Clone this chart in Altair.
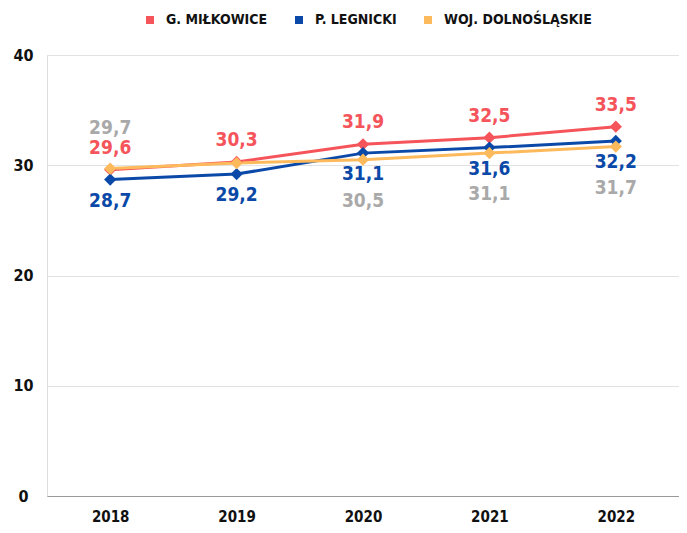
import altair as alt
import pandas as pd

years = ["2018", "2019", "2020", "2021", "2022"]
series = ["G. MIŁKOWICE", "P. LEGNICKI", "WOJ. DOLNOŚLĄSKIE"]
milkowice = [29.6, 30.3, 31.9, 32.5, 33.5]
legnicki = [28.7, 29.2, 31.1, 31.6, 32.2]
dolnoslaskie = [29.7, 30.2, 30.5, 31.1, 31.7]
colors = ["#F5545A", "#0B49A8", "#FDBA5C"]

FONT = "DejaVu Sans Condensed, DejaVu Sans, sans-serif"

rows = []
for s, vals in zip(series, [milkowice, legnicki, dolnoslaskie]):
    for y, v in zip(years, vals):
        rows.append({"year": y, "series": s, "value": v,
                     "label": f"{v:.1f}".replace(".", ",")})
df = pd.DataFrame(rows)

x = alt.X("year:N", sort=years, title=None,
          scale=alt.Scale(paddingInner=0, paddingOuter=0.5),
          axis=alt.Axis(labelAngle=0, ticks=False, labelPadding=13,
                        labelFontSize=15, labelFont=FONT, labelFontWeight="bold",
                        labelColor="#111", domainColor="#999", domainWidth=1, grid=False))
y = alt.Y("value:Q", title=None, scale=alt.Scale(domain=[0, 40], nice=False),
          axis=alt.Axis(values=[0, 10, 20, 30, 40], ticks=False, domain=False,
                        labelPadding=24, labelAlign="center",
                        labelFontSize=16, labelFont=FONT, labelFontWeight="bold",
                        labelColor="#111", gridColor="#E2E2E2", gridWidth=1))
color = alt.Color("series:N", sort=series,
                  scale=alt.Scale(domain=series, range=colors),
                  legend=alt.Legend(title=None, orient="none", direction="horizontal",
                                    legendX=96, legendY=-42, symbolType="square",
                                    symbolSize=64, symbolStrokeWidth=0,
                                    labelFont=FONT, labelFontSize=14, labelLimit=0,
                                    labelFontWeight="bold", labelColor="#111",
                                    columnPadding=24, labelOffset=9))

base = alt.Chart(df)
lines = base.mark_line(strokeWidth=3).encode(x=x, y=y, color=color,
                                             order=alt.Order("year:N"))
points = base.mark_point(shape="diamond", filled=True, size=150, opacity=1).encode(
    x=x, y=y, color=alt.Color("series:N", scale=alt.Scale(domain=series, range=colors), legend=None))

def txt(s, dy, col, years_sel):
    return base.transform_filter(
        alt.FieldEqualPredicate(field="series", equal=s)
    ).transform_filter(
        alt.FieldOneOfPredicate(field="year", oneOf=years_sel)
    ).mark_text(dy=dy, font=FONT, fontSize=19, fontWeight="bold", color=col).encode(
        x=alt.X("year:N", sort=years), y=alt.Y("value:Q"), text="label:N")

labels = [
    txt(series[0], -22, colors[0], years),
    txt(series[1], 21, colors[1], years),
    txt(series[2], -41, "#A9A9A9", ["2018"]),
    txt(series[2], 41, "#A9A9A9", ["2020", "2021", "2022"]),
]

chart = alt.layer(lines, points, *labels).properties(
    width=632, height=441,
    autosize=alt.AutoSizeParams(type="none"),
    padding={"left": 39, "top": 47, "right": 0, "bottom": 29},
).configure_view(stroke=None).configure(background="white")

chart.save("out.html", embed_options={"renderer": "svg", "actions": False})
